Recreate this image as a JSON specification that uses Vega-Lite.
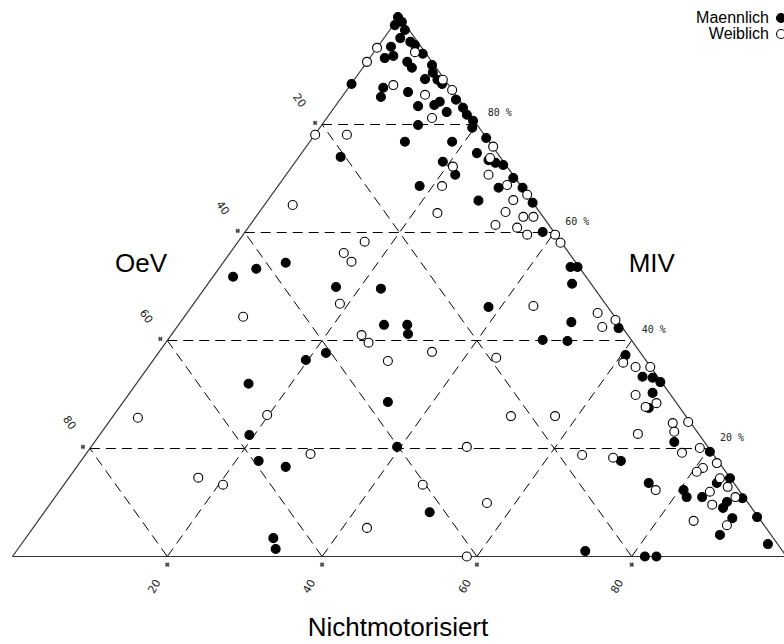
{
  "$schema": "https://vega.github.io/schema/vega-lite/v6.json",
  "width": 772,
  "height": 540,
  "autosize": {"type": "none"},
  "padding": {"left": 12, "top": 16, "right": 0, "bottom": 88},
  "background": "white",
  "config": {"view": {"stroke": null}},
  "datasets": {
    "edges": [
      {"h1": 0, "v1": 0, "h2": 100, "v2": 0},
      {"h1": 0, "v1": 0, "h2": 50, "v2": 100},
      {"h1": 100, "v1": 0, "h2": 50, "v2": 100}
    ],
    "grid": [
      {"h1": 10, "v1": 20, "h2": 90, "v2": 20},
      {"h1": 20, "v1": 40, "h2": 80, "v2": 40},
      {"h1": 30, "v1": 60, "h2": 70, "v2": 60},
      {"h1": 40, "v1": 80, "h2": 60, "v2": 80},
      {"h1": 20, "v1": 0, "h2": 60, "v2": 80},
      {"h1": 40, "v1": 0, "h2": 70, "v2": 60},
      {"h1": 60, "v1": 0, "h2": 80, "v2": 40},
      {"h1": 80, "v1": 0, "h2": 90, "v2": 20},
      {"h1": 80, "v1": 0, "h2": 40, "v2": 80},
      {"h1": 60, "v1": 0, "h2": 30, "v2": 60},
      {"h1": 40, "v1": 0, "h2": 20, "v2": 40},
      {"h1": 20, "v1": 0, "h2": 10, "v2": 20}
    ],
    "ticks": [
      {"h": 39.1, "v": 80.3}, {"h": 29.1, "v": 60.3}, {"h": 19.1, "v": 40.3}, {"h": 9.1, "v": 20.3},
      {"h": 20, "v": -1.5}, {"h": 40, "v": -1.5}, {"h": 60, "v": -1.5}, {"h": 80, "v": -1.5}
    ],
    "titles": [
      {"t": "OeV", "h": 16.6, "v": 52.7},
      {"t": "MIV", "h": 82.6, "v": 52.7},
      {"t": "Nichtmotorisiert", "h": 49.8, "v": -14.7}
    ],
    "leftlab": [
      {"t": "20", "h": 37.0, "v": 84.4},
      {"t": "40", "h": 27.1, "v": 64.5},
      {"t": "60", "h": 17.2, "v": 44.4},
      {"t": "80", "h": 7.3, "v": 24.7}
    ],
    "botlab": [
      {"t": "20", "h": 18.4, "v": -5.6},
      {"t": "40", "h": 38.4, "v": -5.6},
      {"t": "60", "h": 58.5, "v": -5.6},
      {"t": "80", "h": 78.2, "v": -5.6}
    ],
    "rightlab": [
      {"t": "80 %", "h": 61.4, "v": 82.1},
      {"t": "60 %", "h": 71.4, "v": 61.9},
      {"t": "40 %", "h": 81.3, "v": 41.9},
      {"t": "20 %", "h": 91.4, "v": 21.9}
    ],
    "points": [
      {"g": "Maennlich", "h": 49.8, "v": 99.9},
      {"g": "Maennlich", "h": 49.4, "v": 98.4},
      {"g": "Maennlich", "h": 50.3, "v": 99.0},
      {"g": "Maennlich", "h": 50.7, "v": 97.5},
      {"g": "Maennlich", "h": 50.1, "v": 96.0},
      {"g": "Maennlich", "h": 51.4, "v": 95.3},
      {"g": "Maennlich", "h": 52.0, "v": 94.7},
      {"g": "Maennlich", "h": 48.9, "v": 94.4},
      {"g": "Maennlich", "h": 48.1, "v": 92.3},
      {"g": "Maennlich", "h": 49.2, "v": 92.7},
      {"g": "Maennlich", "h": 51.0, "v": 91.6},
      {"g": "Maennlich", "h": 51.6, "v": 90.5},
      {"g": "Maennlich", "h": 53.0, "v": 93.1},
      {"g": "Maennlich", "h": 54.2, "v": 91.0},
      {"g": "Maennlich", "h": 54.3, "v": 89.6},
      {"g": "Maennlich", "h": 53.3, "v": 88.4},
      {"g": "Maennlich", "h": 54.9, "v": 88.3},
      {"g": "Maennlich", "h": 55.5, "v": 87.5},
      {"g": "Maennlich", "h": 47.9, "v": 86.8},
      {"g": "Maennlich", "h": 47.6, "v": 85.1},
      {"g": "Maennlich", "h": 51.1, "v": 86.0},
      {"g": "Maennlich", "h": 52.4, "v": 83.4},
      {"g": "Maennlich", "h": 54.5, "v": 83.6},
      {"g": "Maennlich", "h": 55.2, "v": 84.2},
      {"g": "Maennlich", "h": 56.1, "v": 82.3},
      {"g": "Maennlich", "h": 57.3, "v": 84.6},
      {"g": "Maennlich", "h": 58.2, "v": 83.1},
      {"g": "Maennlich", "h": 58.7, "v": 81.8},
      {"g": "Maennlich", "h": 59.5, "v": 80.7},
      {"g": "Maennlich", "h": 59.4, "v": 79.4},
      {"g": "Maennlich", "h": 52.4, "v": 79.9},
      {"g": "Maennlich", "h": 61.2, "v": 77.5},
      {"g": "Maennlich", "h": 43.8, "v": 87.5},
      {"g": "Maennlich", "h": 50.7, "v": 76.8},
      {"g": "Maennlich", "h": 56.8, "v": 76.8},
      {"g": "Maennlich", "h": 55.6, "v": 73.1},
      {"g": "Maennlich", "h": 57.2, "v": 70.7},
      {"g": "Maennlich", "h": 60.0, "v": 74.7},
      {"g": "Maennlich", "h": 61.5, "v": 73.4},
      {"g": "Maennlich", "h": 62.4, "v": 72.9},
      {"g": "Maennlich", "h": 63.4, "v": 72.5},
      {"g": "Maennlich", "h": 64.7, "v": 70.1},
      {"g": "Maennlich", "h": 62.8, "v": 68.3},
      {"g": "Maennlich", "h": 65.9, "v": 68.3},
      {"g": "Maennlich", "h": 67.2, "v": 65.5},
      {"g": "Maennlich", "h": 60.2, "v": 65.9},
      {"g": "Maennlich", "h": 52.6, "v": 68.6},
      {"g": "Maennlich", "h": 68.5, "v": 60.1},
      {"g": "Maennlich", "h": 42.4, "v": 74.0},
      {"g": "Maennlich", "h": 72.1, "v": 53.6},
      {"g": "Maennlich", "h": 73.0, "v": 53.6},
      {"g": "Maennlich", "h": 72.3, "v": 50.5},
      {"g": "Maennlich", "h": 72.2, "v": 43.4},
      {"g": "Maennlich", "h": 78.3, "v": 42.3},
      {"g": "Maennlich", "h": 68.5, "v": 40.1},
      {"g": "Maennlich", "h": 71.7, "v": 39.9},
      {"g": "Maennlich", "h": 35.3, "v": 54.4},
      {"g": "Maennlich", "h": 31.5, "v": 53.3},
      {"g": "Maennlich", "h": 28.5, "v": 51.8},
      {"g": "Maennlich", "h": 41.8, "v": 49.9},
      {"g": "Maennlich", "h": 47.6, "v": 49.6},
      {"g": "Maennlich", "h": 48.0, "v": 42.9},
      {"g": "Maennlich", "h": 51.0, "v": 42.9},
      {"g": "Maennlich", "h": 61.5, "v": 46.2},
      {"g": "Maennlich", "h": 51.1, "v": 41.2},
      {"g": "Maennlich", "h": 37.9, "v": 36.4},
      {"g": "Maennlich", "h": 40.5, "v": 37.7},
      {"g": "Maennlich", "h": 79.2, "v": 37.3},
      {"g": "Maennlich", "h": 81.4, "v": 33.3},
      {"g": "Maennlich", "h": 82.7, "v": 33.1},
      {"g": "Maennlich", "h": 83.7, "v": 32.3},
      {"g": "Maennlich", "h": 82.7, "v": 30.3},
      {"g": "Maennlich", "h": 82.2, "v": 27.5},
      {"g": "Maennlich", "h": 85.5, "v": 21.2},
      {"g": "Maennlich", "h": 90.1, "v": 19.4},
      {"g": "Maennlich", "h": 78.6, "v": 17.7},
      {"g": "Maennlich", "h": 92.7, "v": 14.5},
      {"g": "Maennlich", "h": 30.5, "v": 32.0},
      {"g": "Maennlich", "h": 48.5, "v": 28.6},
      {"g": "Maennlich", "h": 30.6, "v": 22.5},
      {"g": "Maennlich", "h": 49.7, "v": 20.3},
      {"g": "Maennlich", "h": 31.8, "v": 17.7},
      {"g": "Maennlich", "h": 35.3, "v": 16.6},
      {"g": "Maennlich", "h": 82.2, "v": 13.6},
      {"g": "Maennlich", "h": 86.7, "v": 12.3},
      {"g": "Maennlich", "h": 87.1, "v": 11.0},
      {"g": "Maennlich", "h": 89.1, "v": 11.0},
      {"g": "Maennlich", "h": 91.0, "v": 13.6},
      {"g": "Maennlich", "h": 92.3, "v": 10.1},
      {"g": "Maennlich", "h": 91.8, "v": 9.0},
      {"g": "Maennlich", "h": 94.3, "v": 10.8},
      {"g": "Maennlich", "h": 93.0, "v": 7.1},
      {"g": "Maennlich", "h": 96.2, "v": 7.3},
      {"g": "Maennlich", "h": 91.4, "v": 4.0},
      {"g": "Maennlich", "h": 97.6, "v": 2.3},
      {"g": "Maennlich", "h": 81.7, "v": 0},
      {"g": "Maennlich", "h": 83.2, "v": 0},
      {"g": "Maennlich", "h": 53.9, "v": 8.2},
      {"g": "Maennlich", "h": 74.0, "v": 1.0},
      {"g": "Maennlich", "h": 33.7, "v": 3.4},
      {"g": "Maennlich", "h": 34.0, "v": 1.4},
      {"g": "Weiblich", "h": 47.1, "v": 94.2},
      {"g": "Weiblich", "h": 45.8, "v": 91.6},
      {"g": "Weiblich", "h": 52.0, "v": 93.4},
      {"g": "Weiblich", "h": 49.2, "v": 87.3},
      {"g": "Weiblich", "h": 53.3, "v": 85.5},
      {"g": "Weiblich", "h": 55.6, "v": 88.3},
      {"g": "Weiblich", "h": 56.8, "v": 86.4},
      {"g": "Weiblich", "h": 54.2, "v": 81.2},
      {"g": "Weiblich", "h": 43.2, "v": 78.1},
      {"g": "Weiblich", "h": 39.1, "v": 78.1},
      {"g": "Weiblich", "h": 62.1, "v": 75.9},
      {"g": "Weiblich", "h": 61.7, "v": 73.8},
      {"g": "Weiblich", "h": 61.5, "v": 70.7},
      {"g": "Weiblich", "h": 63.9, "v": 68.8},
      {"g": "Weiblich", "h": 56.9, "v": 72.2},
      {"g": "Weiblich", "h": 55.5, "v": 68.6},
      {"g": "Weiblich", "h": 54.9, "v": 63.6},
      {"g": "Weiblich", "h": 64.7, "v": 66.0},
      {"g": "Weiblich", "h": 63.7, "v": 63.8},
      {"g": "Weiblich", "h": 66.5, "v": 67.0},
      {"g": "Weiblich", "h": 66.0, "v": 62.9},
      {"g": "Weiblich", "h": 67.3, "v": 62.9},
      {"g": "Weiblich", "h": 62.4, "v": 61.4},
      {"g": "Weiblich", "h": 65.2, "v": 60.9},
      {"g": "Weiblich", "h": 66.5, "v": 59.6},
      {"g": "Weiblich", "h": 70.1, "v": 59.6},
      {"g": "Weiblich", "h": 70.8, "v": 58.1},
      {"g": "Weiblich", "h": 36.2, "v": 65.1},
      {"g": "Weiblich", "h": 67.3, "v": 46.4},
      {"g": "Weiblich", "h": 75.6, "v": 45.1},
      {"g": "Weiblich", "h": 76.2, "v": 42.5},
      {"g": "Weiblich", "h": 77.9, "v": 43.8},
      {"g": "Weiblich", "h": 45.5, "v": 58.3},
      {"g": "Weiblich", "h": 42.8, "v": 56.2},
      {"g": "Weiblich", "h": 43.8, "v": 54.6},
      {"g": "Weiblich", "h": 42.3, "v": 46.8},
      {"g": "Weiblich", "h": 29.8, "v": 44.4},
      {"g": "Weiblich", "h": 45.1, "v": 41.0},
      {"g": "Weiblich", "h": 46.0, "v": 39.6},
      {"g": "Weiblich", "h": 48.5, "v": 36.2},
      {"g": "Weiblich", "h": 54.2, "v": 37.9},
      {"g": "Weiblich", "h": 62.5, "v": 36.8},
      {"g": "Weiblich", "h": 78.9, "v": 35.9},
      {"g": "Weiblich", "h": 80.5, "v": 35.1},
      {"g": "Weiblich", "h": 82.4, "v": 35.1},
      {"g": "Weiblich", "h": 80.5, "v": 29.9},
      {"g": "Weiblich", "h": 83.2, "v": 28.4},
      {"g": "Weiblich", "h": 81.8, "v": 27.7},
      {"g": "Weiblich", "h": 87.3, "v": 24.9},
      {"g": "Weiblich", "h": 85.3, "v": 24.7},
      {"g": "Weiblich", "h": 85.5, "v": 23.1},
      {"g": "Weiblich", "h": 80.8, "v": 22.7},
      {"g": "Weiblich", "h": 88.8, "v": 20.1},
      {"g": "Weiblich", "h": 86.5, "v": 19.2},
      {"g": "Weiblich", "h": 91.0, "v": 17.3},
      {"g": "Weiblich", "h": 77.6, "v": 18.3},
      {"g": "Weiblich", "h": 73.6, "v": 18.8},
      {"g": "Weiblich", "h": 89.2, "v": 16.4},
      {"g": "Weiblich", "h": 88.4, "v": 15.7},
      {"g": "Weiblich", "h": 32.9, "v": 26.2},
      {"g": "Weiblich", "h": 38.5, "v": 19.0},
      {"g": "Weiblich", "h": 58.7, "v": 20.3},
      {"g": "Weiblich", "h": 16.2, "v": 25.7},
      {"g": "Weiblich", "h": 64.4, "v": 26.0},
      {"g": "Weiblich", "h": 70.1, "v": 26.0},
      {"g": "Weiblich", "h": 83.1, "v": 12.3},
      {"g": "Weiblich", "h": 90.1, "v": 12.0},
      {"g": "Weiblich", "h": 91.4, "v": 14.5},
      {"g": "Weiblich", "h": 92.4, "v": 12.9},
      {"g": "Weiblich", "h": 93.4, "v": 11.0},
      {"g": "Weiblich", "h": 90.4, "v": 9.6},
      {"g": "Weiblich", "h": 92.3, "v": 5.8},
      {"g": "Weiblich", "h": 88.0, "v": 6.6},
      {"g": "Weiblich", "h": 53.0, "v": 13.3},
      {"g": "Weiblich", "h": 61.3, "v": 9.9},
      {"g": "Weiblich", "h": 58.7, "v": 0},
      {"g": "Weiblich", "h": 24.0, "v": 14.6},
      {"g": "Weiblich", "h": 27.2, "v": 13.3},
      {"g": "Weiblich", "h": 45.8, "v": 5.3}
    ]
  },
  "layer": [
    {
      "data": {"name": "grid"},
      "mark": {"type": "rule", "color": "black", "strokeWidth": 1, "strokeDash": [10, 6]},
      "encoding": {
        "x": {"field": "h1", "type": "quantitative", "scale": {"domain": [0, 100], "range": [0.5, 774.5], "nice": false, "zero": false}, "axis": null},
        "x2": {"field": "h2"},
        "y": {"field": "v1", "type": "quantitative", "scale": {"domain": [0, 100], "range": [540.5, 0.5], "nice": false, "zero": false}, "axis": null},
        "y2": {"field": "v2"}
      }
    },
    {
      "data": {"name": "edges"},
      "mark": {"type": "rule", "color": "#333333", "strokeWidth": 1.2},
      "encoding": {
        "x": {"field": "h1", "type": "quantitative", "axis": null},
        "x2": {"field": "h2"},
        "y": {"field": "v1", "type": "quantitative", "axis": null},
        "y2": {"field": "v2"}
      }
    },
    {
      "data": {"name": "ticks"},
      "mark": {"type": "point", "shape": "cross", "angle": 45, "size": 22, "filled": true, "color": "black", "strokeWidth": 0},
      "encoding": {
        "x": {"field": "h", "type": "quantitative", "axis": null},
        "y": {"field": "v", "type": "quantitative", "axis": null}
      }
    },
    {
      "data": {"name": "points"},
      "mark": {"type": "point", "shape": "circle", "filled": true, "size": 80, "stroke": "black", "strokeWidth": 1.1, "opacity": 1},
      "encoding": {
        "x": {"field": "h", "type": "quantitative", "axis": null},
        "y": {"field": "v", "type": "quantitative", "axis": null},
        "fill": {
          "field": "g", "type": "nominal",
          "scale": {"domain": ["Maennlich", "Weiblich"], "range": ["black", "white"]},
          "legend": {
            "title": null, "orient": "none", "legendX": 761, "legendY": -6,
            "labelAlign": "right", "labelOffset": -20, "labelFont": "Liberation Sans",
            "labelFontSize": 16, "labelColor": "black", "symbolType": "circle",
            "symbolSize": 80, "symbolStrokeColor": "black", "symbolStrokeWidth": 1.1,
            "rowPadding": -3, "padding": 0
          }
        }
      }
    },
    {
      "data": {"name": "titles"},
      "mark": {"type": "text", "font": "Liberation Sans", "fontSize": 26, "align": "center", "baseline": "alphabetic", "color": "black"},
      "encoding": {
        "x": {"field": "h", "type": "quantitative", "axis": null},
        "y": {"field": "v", "type": "quantitative", "axis": null},
        "text": {"field": "t"}
      }
    },
    {
      "data": {"name": "leftlab"},
      "mark": {"type": "text", "font": "DejaVu Sans", "fontSize": 11, "align": "center", "baseline": "middle", "angle": 55, "color": "#222222"},
      "encoding": {
        "x": {"field": "h", "type": "quantitative", "axis": null},
        "y": {"field": "v", "type": "quantitative", "axis": null},
        "text": {"field": "t"}
      }
    },
    {
      "data": {"name": "botlab"},
      "mark": {"type": "text", "font": "DejaVu Sans", "fontSize": 11, "align": "center", "baseline": "middle", "angle": -60, "color": "#222222"},
      "encoding": {
        "x": {"field": "h", "type": "quantitative", "axis": null},
        "y": {"field": "v", "type": "quantitative", "axis": null},
        "text": {"field": "t"}
      }
    },
    {
      "data": {"name": "rightlab"},
      "mark": {"type": "text", "font": "DejaVu Sans Mono", "fontSize": 10, "align": "left", "baseline": "middle", "color": "#222222"},
      "encoding": {
        "x": {"field": "h", "type": "quantitative", "axis": null},
        "y": {"field": "v", "type": "quantitative", "axis": null},
        "text": {"field": "t"}
      }
    }
  ]
}
